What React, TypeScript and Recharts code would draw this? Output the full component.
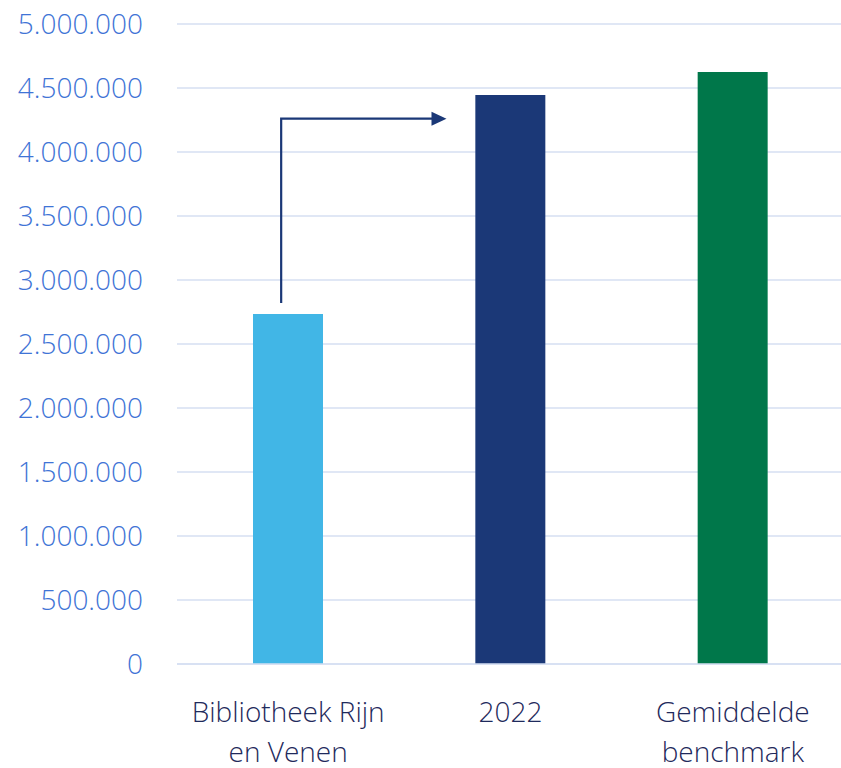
import { Bar, BarChart, CartesianGrid, Cell, ReferenceLine, XAxis, YAxis } from "recharts";

const categories = ["Bibliotheek Rijn en Venen", "2022", "Gemiddelde benchmark"];
const labelLines = [["Bibliotheek Rijn", "en Venen"], ["2022"], ["Gemiddelde", "benchmark"]];
const values = [2734000, 4445000, 4625000];
const barColors = ["#41B6E6", "#1B3877", "#00774A"];
const yTicks = [0, 500000, 1000000, 1500000, 2000000, 2500000, 3000000, 3500000, 4000000, 4500000, 5000000];
const arrowFrom = 2820000;
const arrowTo = 4260000;

const data = categories.map((name, i) => ({ name, value: values[i] }));

const fmt = (v: number) => v.toLocaleString("de-DE");

const XTick = (props: any) => {
  const { x, y, index } = props;
  const lines = labelLines[index] ?? [String(props.payload?.value)];
  return (
    <g transform={`translate(${x},${y})`}>
      {lines.map((l, i) => (
        <text
          key={i}
          x={0}
          y={50 + i * 40}
          textAnchor="middle"
          fill="#1F2A5C"
          fontFamily="'Open Sans', sans-serif"
          fontWeight={300}
          fontSize={28}
        >
          {l}
        </text>
      ))}
    </g>
  );
};

const Arrow = (props: any) => {
  const { x1, y1, x2, y2 } = props;
  const vx = x1 - 7;
  const tip = x2 - 64;
  return (
    <g>
      <path d={`M${vx},${y1} V${y2} H${tip - 12}`} fill="none" stroke="#1B3877" strokeWidth={2.2} />
      <path d={`M${tip - 15},${y2 - 7} L${tip},${y2} L${tip - 15},${y2 + 7} Z`} fill="#1B3877" />
    </g>
  );
};

export default function App() {
  return (
    <div style={{ position: "absolute", left: 0, top: 0, width: 841, height: 768, background: "#fff" }}>
      <BarChart width={841} height={768} data={data} margin={{ top: 24, right: -3, bottom: 0, left: 0 }}>
        <CartesianGrid vertical={false} stroke="#D6DFF2" strokeWidth={1.6} />
        <XAxis
          dataKey="name"
          height={104}
          axisLine={{ stroke: "#D6DFF2", strokeWidth: 1.6 }}
          tickLine={false}
          interval={0}
          tick={<XTick />}
        />
        <YAxis
          width={177}
          domain={[0, 5000000]}
          ticks={yTicks}
          tickFormatter={fmt}
          axisLine={false}
          tickLine={false}
          tickSize={0}
          tickMargin={34}
          tick={{ fill: "#3F74D6", fontSize: 28, fontFamily: "'Open Sans', sans-serif", fontWeight: 300 }}
        />
        <Bar dataKey="value" barSize={70} isAnimationActive={false}>
          {data.map((_, i) => (
            <Cell key={i} fill={barColors[i]} />
          ))}
        </Bar>
        <ReferenceLine
          segment={[
            { x: categories[0], y: arrowFrom },
            { x: categories[1], y: arrowTo },
          ]}
          shape={<Arrow />}
        />
      </BarChart>
    </div>
  );
}
